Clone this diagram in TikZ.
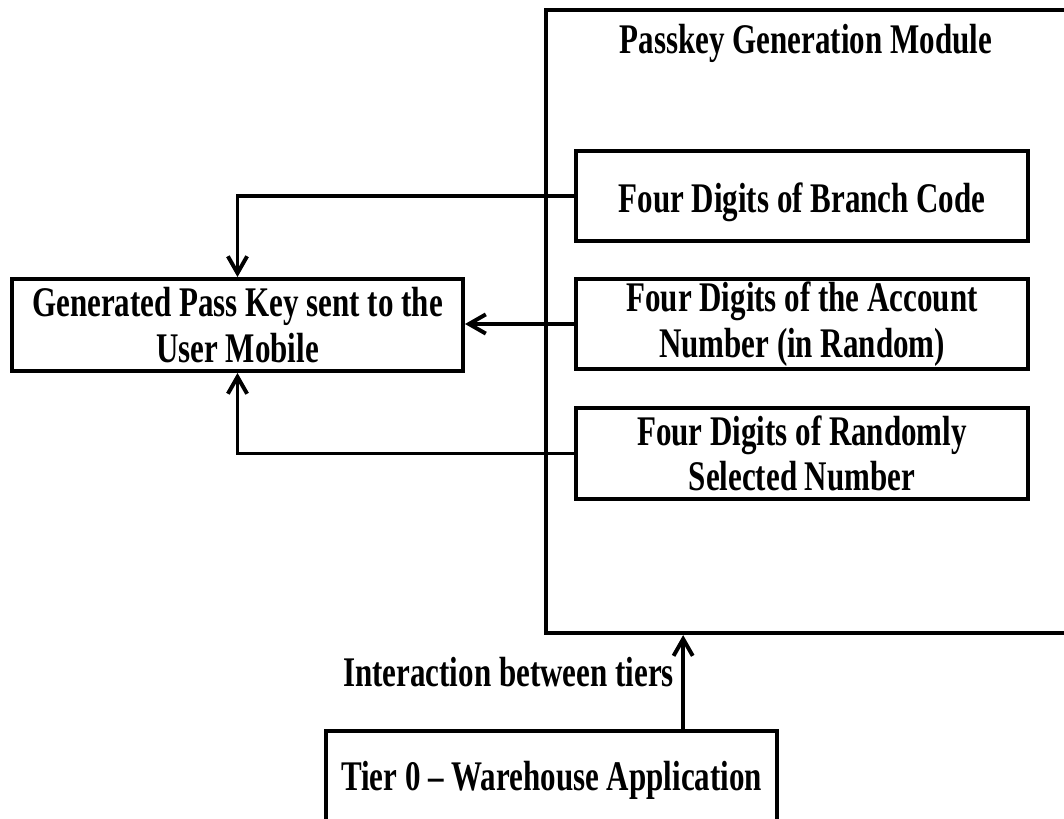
\documentclass[tikz,border=0pt]{standalone}
\usepackage{fontspec}
\setmainfont[FakeStretch=0.735]{Liberation Serif}
\usetikzlibrary{arrows.meta,shadows}
\begin{document}
\begin{tikzpicture}[x=0.025cm, y=-0.025cm,
  every node/.style={font=\fontsize{30}{32.5}\selectfont\bfseries, inner sep=0pt, align=center},
  box/.style={draw, fill=white, line width=2.8pt, minimum width=11.3cm, minimum height=2.25cm,
    drop shadow={shadow xshift=1.5pt, shadow yshift=-1.5pt, opacity=0.18}},
  arr/.style={line width=2.8pt, -{Straight Barb[length=0.42cm,width=0.48cm]}}
]
\useasboundingbox (0,0) rectangle (1064,818);
\clip (0,0) rectangle (1064,818);
\node (module) [draw, line width=2.8pt, minimum width=13.6cm, minimum height=15.575cm] at (818,321.5) {};
\node (title) [anchor=base] at (806,53) {Passkey Generation Module};
\node (b1) [box] at (802,196) {\raisebox{-0.16cm}[\height][\depth]{Four Digits of Branch Code}};
\node (b2) [box] at (802,324) {Four Digits of the Account\\Number (in Random)};
\node (b3) [box, minimum height=2.275cm] at (802,453.5) {Four Digits of Randomly\\Selected Number};
\node (key) [box, minimum width=11.275cm, minimum height=2.3cm] at (237.5,325) {Generated Pass Key sent to the\\User Mobile};
\node (tier) [box, minimum width=11.275cm, minimum height=2.475cm] at (551.5,780.5) {Tier 0 -- Warehouse Application};
\node (inter) [anchor=base] at (508.5,686) {Interaction between tiers};
\draw[arr] (b1.west) -| (key.north);
\draw[arr] (b2.west) -- (b2.west -| key.east);
\draw[arr] (b3.west) -| (key.south);
\draw[arr] ([xshift=3.29cm]tier.north) -- ([xshift=3.29cm]tier.north |- module.south);
\end{tikzpicture}
\end{document}
